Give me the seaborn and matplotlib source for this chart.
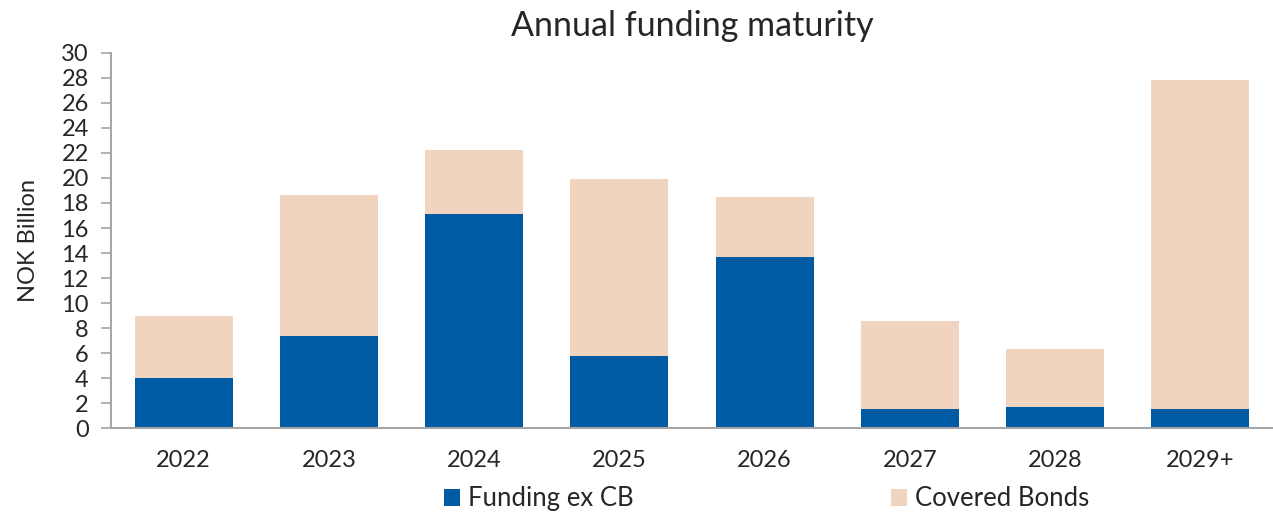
import seaborn as sns
import matplotlib.pyplot as plt
import pandas as pd

years = ['2022', '2023', '2024', '2025', '2026', '2027', '2028', '2029+']
funding_ex_cb = [4.0, 7.4, 17.1, 5.8, 13.7, 1.5, 1.7, 1.5]
covered_bonds = [5.0, 11.2, 5.1, 14.1, 4.8, 7.1, 4.6, 26.3]

blue = '#005BA5'
peach = '#F1D4BF'
grey = '#A6A6A6'

df = pd.DataFrame({'year': years, 'funding': funding_ex_cb, 'covered': covered_bonds})
df['total'] = df['funding'] + df['covered']

sns.set_style('white')
plt.rcParams['font.family'] = ['Lato', 'DejaVu Sans']

fig = plt.figure(figsize=(12.73, 5.14), dpi=100)
ax = fig.add_axes([0.0872, 0.1673, 0.9128, 0.7296])

sns.barplot(data=df, x='year', y='total', color=peach, width=0.675,
            saturation=1, linewidth=0, ax=ax, label='Covered Bonds')
sns.barplot(data=df, x='year', y='funding', color=blue, width=0.675,
            saturation=1, linewidth=0, ax=ax, label='Funding ex CB')

ax.set_ylim(0, 30)
ax.set_xlim(-0.5, 7.5)
ax.set_yticks(range(0, 31, 2))
ax.set_xticks([x - 0.5 for x in range(9)], minor=True)
ax.tick_params(axis='x', which='major', length=0, labelsize=17, pad=16)
ax.tick_params(axis='x', which='minor', length=7, width=1.2, color=grey, direction='out')
ax.tick_params(axis='y', length=7, width=1.2, color=grey, labelsize=17, pad=9, left=True)
ax.set_xlabel('')
ax.set_ylabel('NOK Billion', fontsize=17, labelpad=16)
ax.set_title('Annual funding maturity', fontsize=24.5, pad=12)

for side in ['top', 'right']:
    ax.spines[side].set_visible(False)
for side in ['left', 'bottom']:
    ax.spines[side].set_color(grey)
    ax.spines[side].set_linewidth(1.5)

handles, labels = ax.get_legend_handles_labels()
order = [labels.index('Funding ex CB'), labels.index('Covered Bonds')]
ax.legend([handles[i] for i in order], [labels[i] for i in order],
          loc='lower center', bbox_to_anchor=(0.602, -0.04), bbox_transform=fig.transFigure,
          ncol=2, frameon=False, fontsize=18.5, columnspacing=10,
          handlelength=0.65, handleheight=0.65, handletextpad=0.3)

fig.savefig('out.png', dpi=100)
